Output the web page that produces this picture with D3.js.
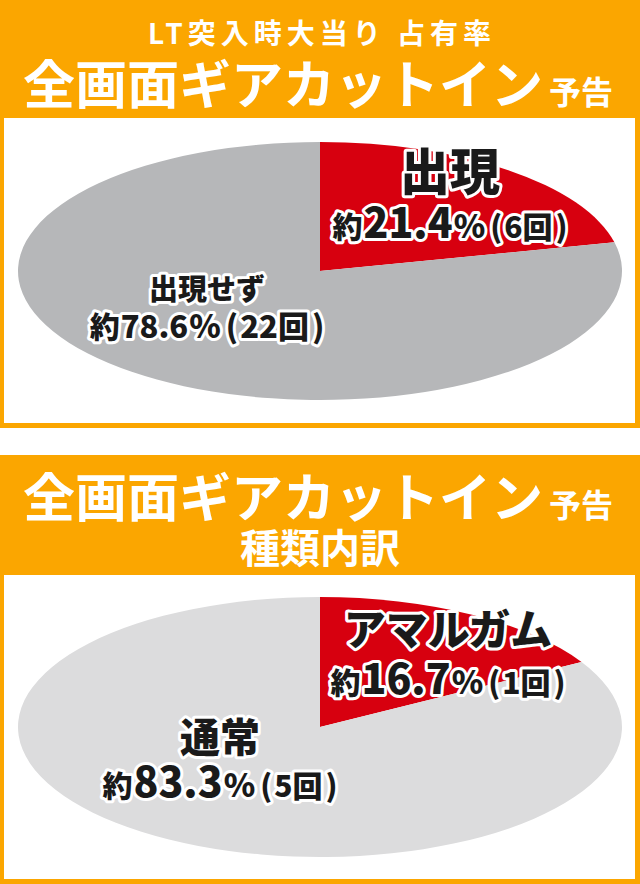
<!DOCTYPE html>
<html>
<head>
<meta charset="utf-8">
<script src="https://cdn.jsdelivr.net/npm/d3@7"></script>
<style>
  body { margin: 0; background: #fff; }
  svg { display: block; font-family: "Noto Sans CJK JP", "Noto Sans", sans-serif; }
  .head { fill: #fff; font-weight: 700; text-anchor: middle; }
  .lbl { fill: #1a1a1a; font-weight: 900; text-anchor: middle;
         stroke: #fff; stroke-width: 6px; stroke-linejoin: round; paint-order: stroke; }
</style>
</head>
<body>
<script>
// panel 1: LT突入時大当り占有率
var cats1 = ['出現', '出現せず']
var counts1 = [6, 22]
var pct1 = ['21.4', '78.6']

// panel 2: 種類内訳
var cats2 = ['アマルガム', '通常']
var counts2 = [1, 5]
var pct2 = ['16.7', '83.3']

var w = 640
var h = 884
var orange = '#fba600'

var svg = d3.select('body')
            .append('svg')
            .attr('width', w)
            .attr('height', h)

var panels = [
  {
    top: 0, bottom: 428, boxTop: 118,
    cx: 320, cy: 271, rx: 302, ry: 129,
    cats: cats1, counts: counts1, pct: pct1,
    colors: ['#d7000f', '#b6b7b9'],
    // label anchors (name baseline, value baseline) per slice
    labels: [
      { x: 450, y: 190, nameSize: 50, y2: 238, big: 41, small: 30 },
      { x: 207, y: 300, nameSize: 29, y2: 338, big: 31, small: 31 }
    ]
  },
  {
    top: 455, bottom: 884, boxTop: 575,
    cx: 320, cy: 727, rx: 302, ry: 130,
    cats: cats2, counts: counts2, pct: pct2,
    colors: ['#d7000f', '#dcdcdd'],
    labels: [
      { x: 448, y: 645, nameSize: 42, y2: 694, big: 41, small: 30 },
      { x: 220, y: 752, nameSize: 40, y2: 797, big: 41, small: 30 }
    ]
  }
]

// orange frames + white boxes
panels.forEach(function (p) {
  svg.append('rect')
    .attr('x', 0).attr('y', p.top)
    .attr('width', w).attr('height', p.bottom - p.top)
    .attr('fill', orange)
  svg.append('rect')
    .attr('x', 4).attr('y', p.boxTop)
    .attr('width', w - 9).attr('height', p.bottom - 5 - p.boxTop)
    .attr('fill', '#fff')
})

// headers
svg.append('text').classed('head', true)
  .attr('x', 322).attr('y', 44)
  .attr('font-size', 28).attr('letter-spacing', 5)
  .text('LT突入時大当り 占有率')

function bigTitle (y) {
  var t = svg.append('text').classed('head', true)
    .attr('x', 318).attr('y', y)
  t.append('tspan').attr('font-size', 52).text('全画面ギアカットイン')
  t.append('tspan').attr('font-size', 32).attr('dx', 6).text('予告')
}
bigTitle(104)
bigTitle(517)

svg.append('text').classed('head', true)
  .attr('x', 320).attr('y', 563)
  .attr('font-size', 40)
  .text('種類内訳')

// pies (circle pie squashed into an ellipse)
var pie = d3.pie().sort(null)

panels.forEach(function (p) {
  var arcs = pie(p.counts)
  var arc = d3.arc().innerRadius(0).outerRadius(p.ry)

  var g = svg.append('g')
    .attr('transform', 'translate(' + p.cx + ',' + p.cy + ') scale(' + (p.rx / p.ry) + ',1)')

  g.selectAll('path')
    .data(arcs)
    .enter()
      .append('path')
      .attr('d', arc)
      .attr('fill', function (d, i) { return p.colors[i] })

  // labels
  arcs.forEach(function (d, i) {
    var L = p.labels[i]
    svg.append('text').classed('lbl', true)
      .attr('x', L.x).attr('y', L.y)
      .attr('font-size', L.nameSize)
      .text(p.cats[i])

    var t = svg.append('text').classed('lbl', true)
      .attr('x', L.x).attr('y', L.y2)
    t.append('tspan').attr('font-size', 30).text('約')
    t.append('tspan').attr('font-size', L.big).attr('dx', 1).text(p.pct[i])
    t.append('tspan').attr('font-size', 32).attr('dx', 1).text('%')
    t.append('tspan').attr('font-size', L.small).attr('dx', 5).text('(')
    t.append('tspan').attr('font-size', L.small).attr('dx', 2).text(p.counts[i] + '回')
    t.append('tspan').attr('font-size', L.small).attr('dx', 3).text(')')
  })
})
</script>
</body>
</html>
